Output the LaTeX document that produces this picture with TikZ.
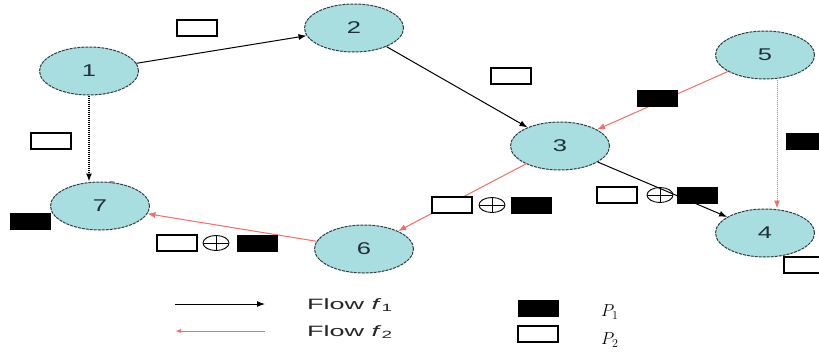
\documentclass[tikz,border=0pt]{standalone}
\usepackage{fontspec}
\setmainfont{Liberation Sans}
\usetikzlibrary{shapes.geometric,arrows.meta}
\definecolor{nodefill}{RGB}{168,222,224}
\definecolor{nodeline}{RGB}{45,60,64}
\definecolor{flowtwo}{RGB}{238,112,102}
\definecolor{digit}{RGB}{30,48,52}
% horizontally widened text
\newcommand\hwide[2]{\scalebox{#1}[1]{#2}}

\begin{document}
\begin{tikzpicture}[x=1pt,y=-1pt,
  netnode/.style={ellipse, draw=nodeline, dash pattern=on 3pt off 1pt, line width=1pt,
    fill=nodefill, minimum width=99pt, minimum height=48pt, inner sep=0pt,
    text=digit, font=\fontsize{17}{17}\selectfont},
  flowone/.style={draw=black, line width=1pt, -{Latex[length=8pt,width=6pt]}},
  flowtwoline/.style={draw=flowtwo, line width=1pt, -{Latex[length=8pt,width=6pt]}},
  wbox/.style={draw=black, fill=white, line width=1.1pt, minimum width=40pt,
    minimum height=16pt, inner sep=0pt},
  bbox/.style={draw=black, fill=black, minimum width=40pt, minimum height=16pt, inner sep=0pt},
  xorsym/.style={ellipse, draw=black, line width=0.9pt, minimum width=26pt,
    minimum height=15pt, inner sep=0pt,
    path picture={\draw[line width=0.9pt]
      (path picture bounding box.north) -- (path picture bounding box.south)
      (path picture bounding box.west) -- (path picture bounding box.east);}},
  legendtext/.style={anchor=west, inner sep=0pt, font=\fontsize{15}{15}\selectfont, text=black!85},
]
\useasboundingbox (0,0) rectangle (819,354);
\clip (0,0) rectangle (819,354);
\fill[white] (0,0) rectangle (819,354);

% network nodes
\node[netnode] (n1) at (89,71)  {\hwide{1.5}{1}};
\node[netnode] (n2) at (354,28) {\hwide{1.5}{2}};
\node[netnode] (n3) at (560,146) {\hwide{1.5}{3}};
\node[netnode] (n4) at (765,233) {\hwide{1.5}{4}};
\node[netnode] (n5) at (765,55) {\hwide{1.5}{5}};
\node[netnode] (n6) at (364,249) {\hwide{1.5}{6}};
\node[netnode] (n7) at (100,206) {\hwide{1.5}{7}};
% small mark on the rim of node 7
\draw[gray, line width=2pt] (n7.58) -- (n7.68);

% flow f1 (black)
\draw[flowone] (n1) -- (n2);
\draw[flowone] (n2) -- (n3);
\draw[flowone] (n3) -- (n4);
\coordinate (e17) at (n1 |- n7.north);
\draw[flowone, densely dotted, line width=1.4pt] (n1) -- (e17);

% flow f2 (red)
\draw[flowtwoline] (n5) -- (n3);
\draw[flowtwoline] (n3) -- (n6);
\draw[flowtwoline] (n6) -- (n7);
\draw[flowtwoline, densely dotted] ([xshift=12pt]n5.south) -- ([xshift=12pt]n4.north);

% packets on the links
\node[wbox] (p12) at (197,28) {};
\node[wbox] (p17) at (51,141) {};
\node[wbox] (p23) at (511,76) {};
\node[bbox] (p53) at (657,98) {};
\node[bbox] (p54) at (806,141) {};
\node[bbox] (p7)  at (30,221) {};
\node[wbox] (p4)  at (804,265) {};

\node[wbox]   (c67a) at (177,243) {};
\node[xorsym] (c67b) at (216,243) {};
\node[bbox]   (c67c) at (257,243) {};

\node[wbox]   (c36a) at (452,205) {};
\node[xorsym] (c36b) at (492,205) {};
\node[bbox]   (c36c) at (531,205) {};

\node[wbox]   (c34a) at (617,195) {};
\node[xorsym] (c34b) at (660,195) {};
\node[bbox]   (c34c) at (697,195) {};

% legend
\coordinate (la) at (175,304);
\coordinate (lb) at (265,304);
\coordinate (lc) at (265,331);
\coordinate (ld) at (175,331);
\draw[flowone] (la) -- (lb);
\draw[flowtwoline, -{Latex[length=6pt,width=4pt]}] (lc) -- (ld);
\node[legendtext] (t1) at (307,305) {\hwide{1.8}{Flow \textit{f}\textsubscript{1}}};
\node[legendtext] (t2) at (307,332) {\hwide{1.8}{Flow \textit{f}\textsubscript{2}}};
\node[bbox] (k1) at (538,308) {};
\node[wbox] (k2) at (538,334) {};
\node[anchor=west, inner sep=0pt, font=\fontsize{17}{17}\selectfont] (q1) at (601,312) {$P_1$};
\node[anchor=west, inner sep=0pt, font=\fontsize{17}{17}\selectfont] (q2) at (601,340) {$P_2$};
\end{tikzpicture}
\end{document}
